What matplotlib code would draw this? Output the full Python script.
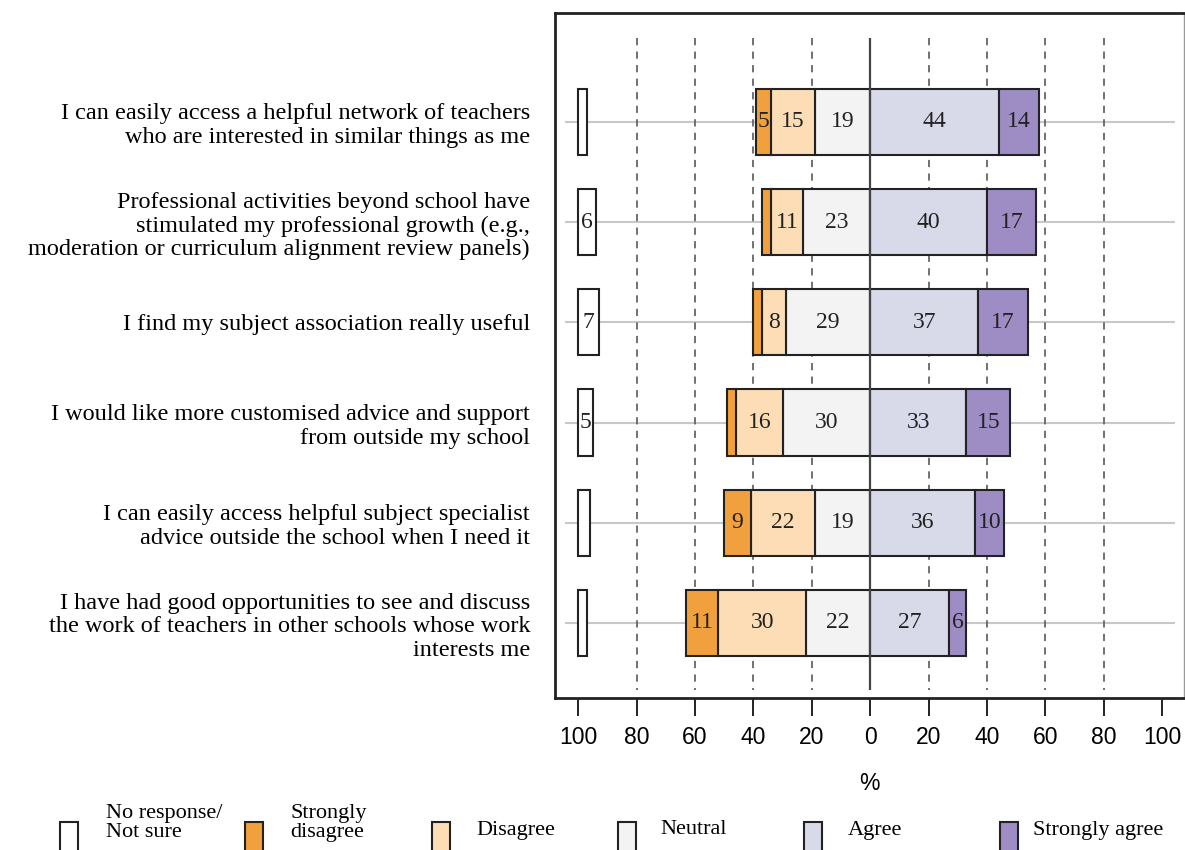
import matplotlib.pyplot as plt
from matplotlib.patches import Rectangle

# statements, top to bottom
statements = [
    "I can easily access a helpful network of teachers\nwho are interested in similar things as me",
    "Professional activities beyond school have\nstimulated my professional growth (e.g.,\nmoderation or curriculum alignment review panels)",
    "I find my subject association really useful",
    "I would like more customised advice and support\nfrom outside my school",
    "I can easily access helpful subject specialist\nadvice outside the school when I need it",
    "I have had good opportunities to see and discuss\nthe work of teachers in other schools whose work\ninterests me",
]

no_response = [3, 6, 7, 5, 4, 3]
strongly_disagree = [5, 3, 3, 3, 9, 11]
disagree = [15, 11, 8, 16, 22, 30]
neutral = [19, 23, 29, 30, 19, 22]
agree = [44, 40, 37, 33, 36, 27]
strongly_agree = [14, 17, 17, 15, 10, 6]

legend_labels = ["No response/\nNot sure", "Strongly\ndisagree", "Disagree",
                 "Neutral", "Agree", "Strongly agree"]
colors = ["#FFFFFF", "#F0A13D", "#FCDDB6", "#F3F3F3", "#D8DAEA", "#9D8DC4"]

tick_vals = [-100, -80, -60, -40, -20, 0, 20, 40, 60, 80, 100]

serif = "Liberation Serif"
sans = "Liberation Sans"
edge = "#222222"

fig = plt.figure(figsize=(11.85, 8.5), dpi=100)
ax = fig.add_axes([0.4684, 0.1788, 0.5306, 0.8059])

n = len(statements)
ypos = list(range(n))
bar_h = 0.66

# background guides
ax.hlines(ypos, -104.5, 104.5, color="#C8C8C8", lw=1.5, zorder=0)
for v in [-80, -60, -40, -20, 20, 40, 60, 80]:
    ax.vlines(v, -0.84, 5.67, color="#666666", lw=1.3, linestyles=(0, (4, 3.5)), zorder=0.5)
ax.vlines(0, -0.84, 5.67, color="#444444", lw=1.6, zorder=3)


def draw(lefts, widths, color):
    ax.barh(ypos, widths, left=lefts, height=bar_h, color=color,
            edgecolor=edge, linewidth=1.5, zorder=2)
    for y, l, w in zip(ypos, lefts, widths):
        if w >= 5:
            ax.text(l + w / 2, y, str(w), ha="center", va="center",
                    fontsize=17, family=serif, color="#222222", zorder=4)


# no response drawn from the left edge at -100
draw([-100] * n, no_response, colors[0])
# negative side: neutral, disagree, strongly disagree
neu_left = [-v for v in neutral]
dis_left = [-(a + b) for a, b in zip(neutral, disagree)]
sd_left = [-(a + b + c) for a, b, c in zip(neutral, disagree, strongly_disagree)]
draw(neu_left, neutral, colors[3])
draw(dis_left, disagree, colors[2])
draw(sd_left, strongly_disagree, colors[1])
# positive side
draw([0] * n, agree, colors[4])
draw(agree, strongly_agree, colors[5])

ax.set_xlim(-108, 107.5)
ax.set_ylim(5.75, -1.088)
ax.set_xticks(tick_vals)
ax.set_xticklabels([str(abs(v)) for v in tick_vals], fontsize=16.5, family=sans)
ax.tick_params(axis="x", length=13, width=1.4, pad=7, color="#222222")
ax.set_yticks(ypos)
ax.set_yticklabels(statements, fontsize=17.5, family=serif, linespacing=1.17)
ax.tick_params(axis="y", length=0, pad=18)
ax.set_xlabel("%", fontsize=16.5, family=sans, labelpad=17)

for s in ["left", "top", "bottom"]:
    ax.spines[s].set_linewidth(2)
    ax.spines[s].set_color("#222222")
ax.spines["right"].set_linewidth(1)
ax.spines["right"].set_color("#999999")

# legend drawn by hand along the bottom
sq_x = [60, 245, 432, 618, 804, 1000]
txt_x = [106, 290, 476, 660, 848, 1033]
for x, tx, lab, c in zip(sq_x, txt_x, legend_labels, colors):
    fig.patches.append(Rectangle((x / 1185, (850 - 858) / 850), 18 / 1185, 36 / 850,
                                 transform=fig.transFigure, facecolor=c,
                                 edgecolor=edge, linewidth=1.5))
    ty = 823 if "\n" in lab else 830
    fig.text(tx / 1185, 1 - ty / 850, lab, fontsize=16, family=serif,
             ha="left", va="center", multialignment="left", linespacing=1.05)

fig.savefig("out.png", dpi=100)
